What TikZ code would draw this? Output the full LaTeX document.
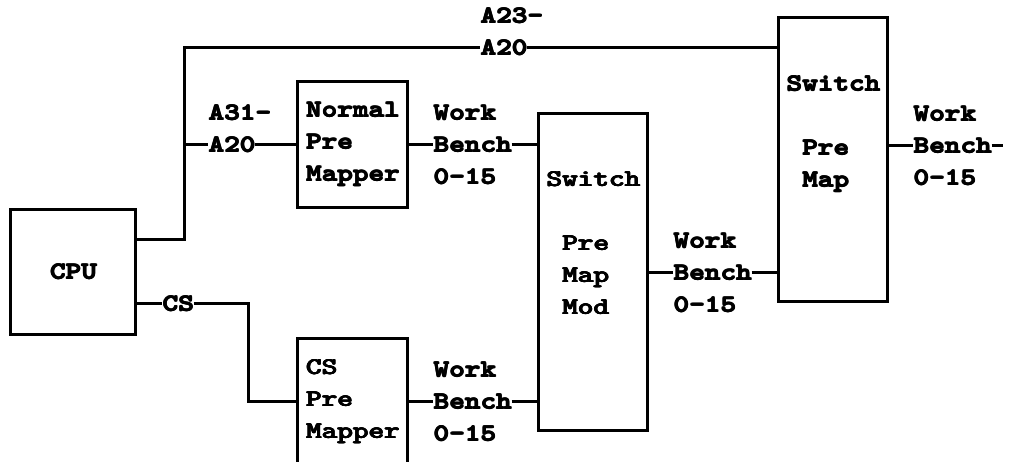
\documentclass[tikz,border=0pt]{standalone}
\usepackage{graphicx}
\newcommand{\hvy}[1]{\rlap{\kern0.8pt#1}\rlap{\raisebox{0.7pt}{#1}}\rlap{\kern0.8pt\raisebox{0.7pt}{#1}}\rlap{\kern0.4pt\raisebox{0.35pt}{#1}}#1}
\newcommand{\sx}[1]{\scalebox{1.24}[1]{\hvy{#1}}}
\newcommand{\lbfont}{\ttfamily\bfseries\fontsize{24}{32}\selectfont}
\tikzset{
  wire/.style={line width=3pt},
  box/.style={draw, line width=3pt, inner sep=0pt, font=\lbfont, align=left},
  txt/.style={inner sep=0pt, font=\lbfont, align=left},
  lbl/.style={inner sep=0pt, font=\lbfont, align=left},
}
\begin{document}
\begin{tikzpicture}[x=1pt,y=-1pt]
\useasboundingbox (0,0) rectangle (1012,462);
\clip (0,0) rectangle (1012,462);
% boxes
\node[box, minimum width=125pt, minimum height=125pt] (cpu) at (73,272) {\sx{CPU}};
\node[box, minimum width=110pt, minimum height=126pt] (npm) at (352.5,144.5) {\sx{Normal}\\\sx{Pre}\\\sx{Mapper}};
\node[box, minimum width=110pt, minimum height=126pt] (cspm) at (352.5,401.5) {\sx{CS}\\\sx{Pre}\\\sx{Mapper}};
\node[box, minimum width=109pt, minimum height=317pt] (spmm) at (593,272) {};
\node[txt] (spmmt) at (593,243) {\sx{Switch}\\[32pt]\sx{\ Pre}\\\sx{\ Map}\\\sx{\ Mod}};
\node[box, minimum width=109pt, minimum height=284pt] (spm) at (833,159.5) {};
\node[txt] (spmt) at (833,134) {\sx{Switch}\\[32pt]\sx{\ Pre}\\\sx{\ Map}};
% labels
\node[lbl, anchor=west] (a20t) at (480,48) {\sx{A20}};
\node[lbl, anchor=base west] (a23) at ([yshift=32pt]a20t.base west) {\sx{A23-}};
\node[lbl, anchor=west] (a20b) at (208,145) {\sx{A20}};
\node[lbl, anchor=base west] (a31) at ([yshift=32pt]a20b.base west) {\sx{A31-}};
\node[lbl, anchor=west] (cs) at (162,304) {\sx{CS}};
\node[lbl, anchor=west] (wb1) at (433,145) {\sx{Work}\\\sx{Bench}\\\sx{0-15}};
\node[lbl, anchor=west] (wb2) at (673,273) {\sx{Work}\\\sx{Bench}\\\sx{0-15}};
\node[lbl, anchor=west] (wb3) at (913,146) {\sx{Work}\\\sx{Bench}\\\sx{0-15}};
\node[lbl, anchor=west] (wb4) at (433,401.5) {\sx{Work}\\\sx{Bench}\\\sx{0-15}};
\coordinate (j1) at (184,145);
\coordinate (free) at (1003,146);
% wires
\draw[wire] (cpu.east |- 0,240) -- (184,240) -- (184,48) -- (a20t.west);
\draw[wire] (a20t.east) -- (spm.west |- a20t.east);
\draw[wire] (j1) -- (a20b.west);
\draw[wire] (a20b.east) -- (npm.west |- a20b.east);
\draw[wire] (npm.east |- wb1.west) -- (wb1.west);
\draw[wire] (wb1.east) -- (spmm.west |- wb1.east);
\draw[wire] (spmm.east |- wb2.west) -- (wb2.west);
\draw[wire] (wb2.east) -- (spm.west |- wb2.east);
\draw[wire] (spm.east |- wb3.west) -- (wb3.west);
\draw[wire] (wb3.east) -- (free);
\draw[wire] (cpu.east |- cs.west) -- (cs.west);
\draw[wire] (cs.east) -| (248,401.5) -- (cspm.west);
\draw[wire] (cspm.east) -- (wb4.west);
\draw[wire] (wb4.east) -- (spmm.west |- wb4.east);
\end{tikzpicture}
\end{document}
